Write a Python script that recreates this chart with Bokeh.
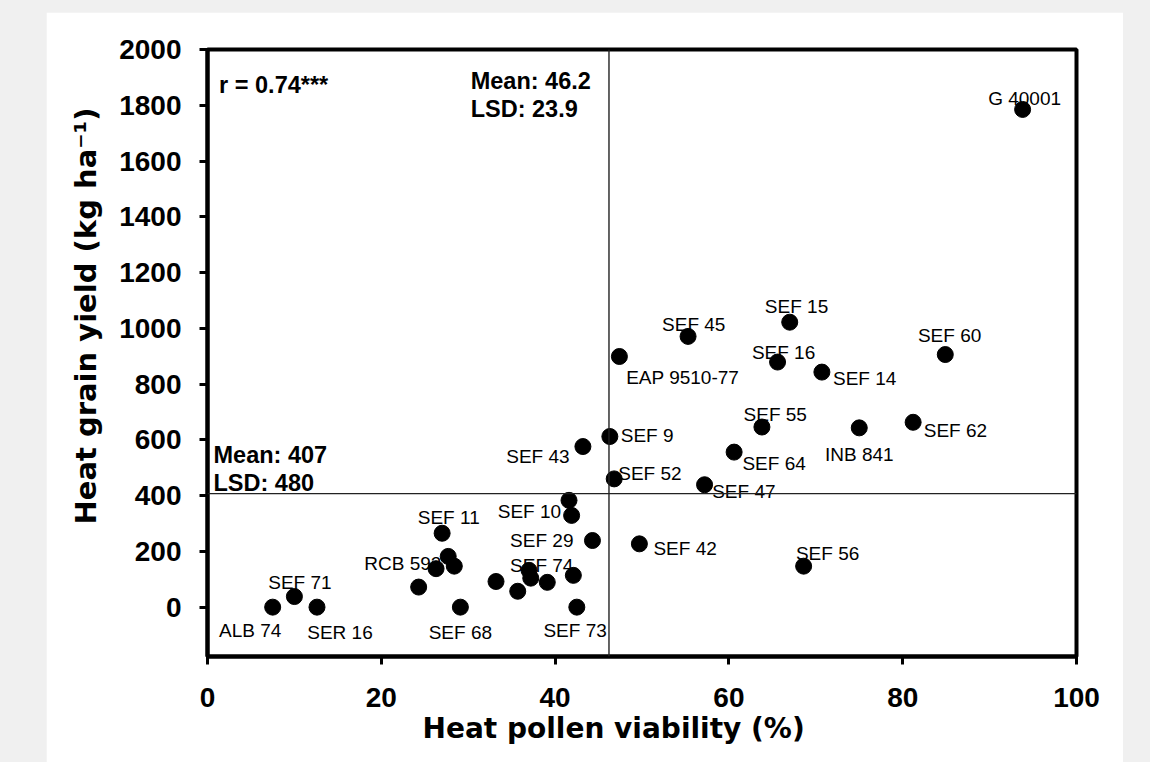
import math
from bokeh.plotting import figure
from bokeh.models import ColumnDataSource, Span, Label, FixedTicker, Title
from bokeh.layouts import column
from bokeh.core.properties import value
from bokeh.embed import file_html
from bokeh.resources import INLINE

# ---------------- data ----------------
genotypes = ["ALB 74", "SEF 71", "SER 16", "", "", "SEF 11", "RCB 593", "", "SEF 68",
             "", "", "SEF 74", "", "", "", "SEF 73", "SEF 10", "", "SEF 29", "SEF 43",
             "SEF 9", "SEF 52", "SEF 42", "EAP 9510-77", "SEF 45", "SEF 15", "SEF 16",
             "SEF 14", "SEF 60", "SEF 55", "INB 841", "SEF 62", "SEF 64", "SEF 47",
             "SEF 56", "G 40001"]
pollen_viability = [7.5, 10.0, 12.6, 24.3, 26.3, 27.0, 27.7, 28.4, 29.1,
                    33.2, 35.7, 37.0, 37.2, 39.1, 42.1, 42.5, 41.6, 41.9, 44.3, 43.2,
                    46.3, 46.8, 49.7, 47.4, 55.3, 67.0, 65.6,
                    70.7, 84.9, 63.8, 75.0, 81.2, 60.6, 57.2,
                    68.6, 93.8]
grain_yield = [0, 38, 0, 72, 138, 265, 182, 147, 0,
               92, 57, 132, 104, 89, 114, 0, 383, 329, 239, 576,
               612, 460, 227, 899, 971, 1022, 879,
               843, 906, 646, 643, 663, 556, 439,
               147, 1785]

x_ticks = [0, 20, 40, 60, 80, 100]
y_ticks = [0, 200, 400, 600, 800, 1000, 1200, 1400, 1600, 1800, 2000]

mean_pollen = 46.2
lsd_pollen = 23.9
mean_yield = 407
lsd_yield = 480
r_text = "r = 0.74***"

x_title = "Heat pollen viability (%)"
y_title = "Heat grain yield (kg ha\u207b\u00b9)"

# label placement (screen px offsets from the point, style only)
label_offsets = {
    "ALB 74": (-22.5, 23.3), "SEF 71": (5.5, -14.3), "SER 16": (23, 25.6),
    "SEF 11": (6.6, -15.4), "RCB 593": (-45.4, 7.3), "SEF 68": (0, 25),
    "SEF 10": (-39.6, 11), "SEF 29": (-50.7, 0), "SEF 74": (12.7, -5),
    "SEF 73": (-1.7, 23.3), "SEF 43": (-45, 10), "SEF 9": (37.3, -1),
    "SEF 52": (35.7, -5), "SEF 42": (45.7, 5), "EAP 9510-77": (63.3, 21.3),
    "SEF 45": (5.7, -12), "SEF 15": (6.8, -15.7), "SEF 16": (6, -10),
    "SEF 14": (42.8, 6.6), "SEF 60": (4.3, -19), "SEF 55": (13.3, -12.7),
    "INB 841": (0, 26.7), "SEF 62": (42.3, 8.3), "SEF 64": (40, 11),
    "SEF 47": (39.3, 6.7), "SEF 56": (24, -12.4), "G 40001": (2, -10.7),
}

dx = [label_offsets.get(g, (0, 0))[0] for g in genotypes]
dy = [label_offsets.get(g, (0, 0))[1] for g in genotypes]

src = ColumnDataSource(dict(x=pollen_viability, y=grain_yield, name=genotypes, dx=dx, dy=dy))

FONT = "Liberation Sans"
TITLE_FONT = "DejaVu Sans"

fig = figure(width=1077, height=750, x_range=(0, 100), y_range=(-177, 2000),
             output_backend="svg", toolbar_location=None, tools="",
             min_border_left=161, min_border_right=47, min_border_top=37,
             min_border_bottom=106, background_fill_color="white",
             border_fill_color="white")
fig.margin = (12, 27, 0, 46)

fig.xgrid.visible = False
fig.ygrid.visible = False
fig.outline_line_color = "black"
fig.outline_line_width = 4

fig.xaxis.ticker = FixedTicker(ticks=x_ticks)
fig.yaxis.ticker = FixedTicker(ticks=y_ticks)
for ax in (fig.xaxis[0], fig.yaxis[0]):
    ax.axis_line_width = 4
    ax.axis_line_color = "black"
    ax.major_tick_line_width = 3
    ax.major_tick_line_color = "black"
    ax.major_tick_out = 8
    ax.major_tick_in = 0
    ax.minor_tick_line_color = None
    ax.major_label_text_font = FONT
    ax.major_label_text_font_size = "28px"
    ax.major_label_text_font_style = "bold"
    ax.major_label_text_color = "black"
fig.xaxis[0].major_label_standoff = 23
fig.yaxis[0].major_label_standoff = 18

# axis titles
fig.add_layout(Title(text=x_title, align="left", offset=215, standoff=0,
                     text_font=TITLE_FONT, text_font_size="28px", text_font_style="bold",
                     text_color="black"), "below")
fig.add_layout(Title(text=y_title, align="left", offset=132, standoff=27,
                     text_font=TITLE_FONT, text_font_size="29px", text_font_style="bold",
                     text_color="black"), "left")

# mean lines
fig.add_layout(Span(location=mean_pollen, dimension="height", line_color="#222222", line_width=1.4))
fig.add_layout(Span(location=mean_yield, dimension="width", line_color="#222222", line_width=1.4))

# point labels (under the dots) and dots
fig.text(x="x", y="y", text="name", x_offset="dx", y_offset="dy", source=src,
         text_font=value(FONT), text_font_size="19px", text_align="center",
         text_baseline="alphabetic", text_color="black")
fig.scatter(x="x", y="y", source=src, size=16, fill_color="black", line_color="black")

def note(text, x, y, xo, yo):
    fig.add_layout(Label(x=x, y=y, x_offset=xo, y_offset=yo, text=text,
                         text_font=FONT, text_font_size="23.5px", text_font_style="bold",
                         text_align="left", text_baseline="alphabetic", text_color="black"))

note(r_text, 0, 2000, 11.6, -35)
note(f"Mean: {mean_pollen}", mean_pollen, 2000, -138.3, -31.7)
note(f"LSD: {lsd_pollen}", mean_pollen, 2000, -138.3, -59.3)
note(f"Mean: {mean_yield}", 0, mean_yield, 6, 38.2)
note(f"LSD: {lsd_yield}", 0, mean_yield, 6, 10.5)

p = column(fig, styles={"background-color": "#f0f0f0"})

open("out.html", "w").write(file_html(p, INLINE))
